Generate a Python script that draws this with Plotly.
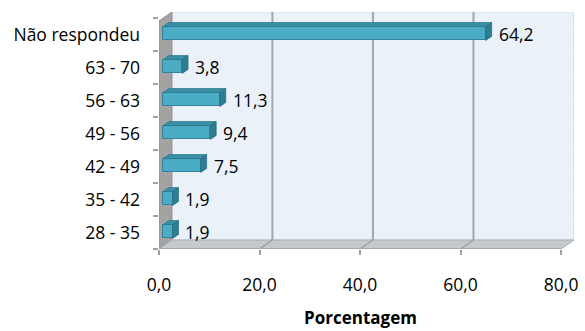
import plotly.graph_objects as go

# Age groups (bottom to top) and share of respondents in percent
categories = ["28 - 35", "35 - 42", "42 - 49", "49 - 56", "56 - 63", "63 - 70", "Não respondeu"]
values = [1.9, 1.9, 7.5, 9.4, 11.3, 3.8, 64.2]
x_ticks = [0, 20, 40, 60, 80]

FONT = "Open Sans"
FS = 17.5

# pseudo-3D geometry, in axis units
X_MAX = 82.56          # right edge of the back wall
Y_LO, Y_HI = -0.5, 6.68
WALL_DX, WALL_DY = 2.56, 0.273   # depth shift of the back wall
BAR_OFF_X, BAR_OFF_Y = 0.79, 0.03
BAR_W = 0.42
BAR_DX, BAR_DY = 1.18, 0.12      # depth of each bar

FRONT = "#4BACC6"
TOP = "#3A8FA6"
SIDE = "#2F7D93"
WALL = "#EAF1F8"
GRID = "#A6A6A6"

idx = list(range(len(categories)))

fig = go.Figure()
fig.add_trace(go.Bar(
    orientation="h",
    x=values,
    base=[BAR_OFF_X] * len(values),
    y=[i + BAR_OFF_Y for i in idx],
    width=BAR_W,
    marker=dict(color=FRONT, line=dict(color="#31849B", width=1)),
    hoverinfo="skip",
))

shapes = []


def poly(pts, fill, line_color=None, layer="below", width=1):
    path = "M " + " L ".join(f"{x},{y}" for x, y in pts) + " Z"
    shapes.append(dict(type="path", path=path, xref="x", yref="y",
                       fillcolor=fill, layer=layer,
                       line=dict(color=line_color or fill, width=width)))


# back wall
poly([(WALL_DX, Y_LO + WALL_DY), (X_MAX, Y_LO + WALL_DY), (X_MAX, Y_HI), (WALL_DX, Y_HI)],
     WALL, "#D9DEE3")
# left side wall
poly([(0, Y_LO), (WALL_DX, Y_LO + WALL_DY), (WALL_DX, Y_HI), (0, Y_HI - WALL_DY)],
     "#A3A3A3", "#8C8C8C")
# floor
poly([(0, Y_LO), (80, Y_LO), (X_MAX, Y_LO + WALL_DY), (WALL_DX, Y_LO + WALL_DY)],
     "#C4C9CE", "#A8ADB2")

# gridlines on wall and floor
for v in x_ticks[1:-1]:
    shapes.append(dict(type="line", xref="x", yref="y", layer="below",
                       x0=v + WALL_DX, x1=v + WALL_DX, y0=Y_LO + WALL_DY, y1=Y_HI,
                       line=dict(color=GRID, width=2)))
    shapes.append(dict(type="line", xref="x", yref="y", layer="below",
                       x0=v, x1=v + WALL_DX, y0=Y_LO, y1=Y_LO + WALL_DY,
                       line=dict(color="#9A9FA4", width=1.5)))
shapes.append(dict(type="line", xref="x", yref="y", layer="below",
                   x0=X_MAX, x1=X_MAX, y0=Y_LO + WALL_DY, y1=Y_HI,
                   line=dict(color="#C8C8C8", width=1, dash="dot")))
# front edge of the floor
shapes.append(dict(type="line", xref="x", yref="y", layer="below",
                   x0=0, x1=80, y0=Y_LO, y1=Y_LO,
                   line=dict(color="#A0A0A0", width=1.5)))

# top and end faces of each bar
for i, v in zip(idx, values):
    yc = i + BAR_OFF_Y
    top = yc + BAR_W / 2
    bot = yc - BAR_W / 2
    x0 = BAR_OFF_X
    x1 = BAR_OFF_X + v
    poly([(x0, top), (x0 + BAR_DX, top + BAR_DY), (x1 + BAR_DX, top + BAR_DY), (x1, top)],
         TOP, "#2E7A8F", layer="above", width=0.8)
    poly([(x1, bot), (x1, top), (x1 + BAR_DX, top + BAR_DY), (x1 + BAR_DX, bot + BAR_DY)],
         SIDE, "#2A6F83", layer="above", width=0.8)

annotations = []
for i, v in zip(idx, values):
    annotations.append(dict(
        x=BAR_OFF_X + v + BAR_DX, y=i + 0.02, xref="x", yref="y",
        text=f"{v:.1f}".replace(".", ","), showarrow=False,
        xanchor="left", yanchor="middle", xshift=5,
        font=dict(family=FONT, size=FS, color="#000000"),
    ))
annotations.append(dict(
    x=40, y=-0.29, xref="x", yref="paper", text="<b>Porcentagem</b>",
    showarrow=False, xanchor="center", yanchor="middle",
    font=dict(family=FONT, size=17, color="#000000"),
))

fig.update_layout(
    width=585, height=331,
    margin=dict(l=159, r=7, t=12, b=82),
    paper_bgcolor="white", plot_bgcolor="white",
    separators=", ",
    showlegend=False,
    shapes=shapes,
    annotations=annotations,
    bargap=0,
    xaxis=dict(
        range=[0, X_MAX], tickvals=x_ticks, tickformat=".1f",
        showgrid=False, zeroline=False, showline=False,
        ticks="outside", ticklen=5, tickcolor="#A0A0A0", tickwidth=1.5,
        ticklabelstandoff=15,
        tickfont=dict(family=FONT, size=FS, color="#000000"),
        fixedrange=True,
    ),
    yaxis=dict(
        range=[Y_LO, Y_HI], tickvals=idx, ticktext=categories,
        showgrid=False, zeroline=False, showline=False,
        ticks="", ticklabelstandoff=18,
        minor=dict(tickmode="array", tickvals=[k - 0.5 for k in range(len(categories) + 1)],
                   ticks="outside", ticklen=5, tickcolor="#A0A0A0", tickwidth=1.5,
                   showgrid=False),
        tickfont=dict(family=FONT, size=FS, color="#000000"),
        fixedrange=True,
    ),
)

fig.write_html("out.html")
